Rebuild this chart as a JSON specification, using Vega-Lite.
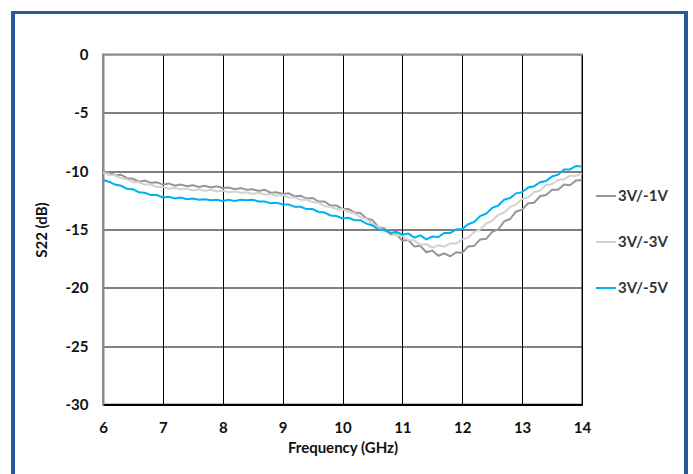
{
  "$schema": "https://vega.github.io/schema/vega-lite/v6.json",
  "width": 479,
  "height": 350,
  "autosize": {"type": "none"},
  "padding": {"left": 103, "top": 54.5, "right": 111, "bottom": 69.5},
  "background": "white",
  "config": {
    "font": "Lato",
    "view": {"stroke": "#8a8a8a", "strokeWidth": 2},
    "axis": {
      "labelFont": "Lato", "labelFontSize": 15, "labelFontWeight": "bold", "labelColor": "#111111",
      "titleFont": "Lato", "titleFontSize": 15, "titleFontWeight": "bold", "titleColor": "#111111",
      "ticks": false, "gridWidth": 1, "labelFlush": false
    },
    "legend": {
      "labelFont": "Lato", "labelFontSize": 15, "labelFontWeight": "bold", "labelColor": "#333333"
    }
  },
  "data": {"values": [
    {"f":6.0,"s":"3V/-1V","v":-10.0},{"f":6.1,"s":"3V/-1V","v":-10.1},{"f":6.2,"s":"3V/-1V","v":-10.35},{"f":6.3,"s":"3V/-1V","v":-10.3},{"f":6.4,"s":"3V/-1V","v":-10.6},{"f":6.5,"s":"3V/-1V","v":-10.65},{"f":6.6,"s":"3V/-1V","v":-10.9},{"f":6.7,"s":"3V/-1V","v":-10.8},{"f":6.8,"s":"3V/-1V","v":-11.0},{"f":6.9,"s":"3V/-1V","v":-10.95},
    {"f":7.0,"s":"3V/-1V","v":-11.15},{"f":7.1,"s":"3V/-1V","v":-11.05},{"f":7.2,"s":"3V/-1V","v":-11.25},{"f":7.3,"s":"3V/-1V","v":-11.15},{"f":7.4,"s":"3V/-1V","v":-11.3},{"f":7.5,"s":"3V/-1V","v":-11.2},{"f":7.6,"s":"3V/-1V","v":-11.35},{"f":7.7,"s":"3V/-1V","v":-11.25},{"f":7.8,"s":"3V/-1V","v":-11.4},{"f":7.9,"s":"3V/-1V","v":-11.3},
    {"f":8.0,"s":"3V/-1V","v":-11.45},{"f":8.1,"s":"3V/-1V","v":-11.4},{"f":8.2,"s":"3V/-1V","v":-11.55},{"f":8.3,"s":"3V/-1V","v":-11.45},{"f":8.4,"s":"3V/-1V","v":-11.6},{"f":8.5,"s":"3V/-1V","v":-11.55},{"f":8.6,"s":"3V/-1V","v":-11.7},{"f":8.7,"s":"3V/-1V","v":-11.6},{"f":8.8,"s":"3V/-1V","v":-11.85},{"f":8.9,"s":"3V/-1V","v":-11.8},
    {"f":9.0,"s":"3V/-1V","v":-11.95},{"f":9.1,"s":"3V/-1V","v":-11.9},{"f":9.2,"s":"3V/-1V","v":-12.15},{"f":9.3,"s":"3V/-1V","v":-12.1},{"f":9.4,"s":"3V/-1V","v":-12.35},{"f":9.5,"s":"3V/-1V","v":-12.3},{"f":9.6,"s":"3V/-1V","v":-12.6},{"f":9.7,"s":"3V/-1V","v":-12.6},{"f":9.8,"s":"3V/-1V","v":-12.95},{"f":9.9,"s":"3V/-1V","v":-12.95},
    {"f":10.0,"s":"3V/-1V","v":-13.25},{"f":10.1,"s":"3V/-1V","v":-13.25},{"f":10.2,"s":"3V/-1V","v":-13.55},{"f":10.3,"s":"3V/-1V","v":-13.6},{"f":10.4,"s":"3V/-1V","v":-14.05},{"f":10.5,"s":"3V/-1V","v":-14.2},{"f":10.6,"s":"3V/-1V","v":-14.8},{"f":10.7,"s":"3V/-1V","v":-14.9},{"f":10.8,"s":"3V/-1V","v":-15.4},{"f":10.9,"s":"3V/-1V","v":-15.4},
    {"f":11.0,"s":"3V/-1V","v":-15.95},{"f":11.1,"s":"3V/-1V","v":-15.9},{"f":11.2,"s":"3V/-1V","v":-16.45},{"f":11.3,"s":"3V/-1V","v":-16.4},{"f":11.4,"s":"3V/-1V","v":-16.95},{"f":11.5,"s":"3V/-1V","v":-16.8},{"f":11.6,"s":"3V/-1V","v":-17.25},{"f":11.7,"s":"3V/-1V","v":-17.05},{"f":11.8,"s":"3V/-1V","v":-17.3},{"f":11.9,"s":"3V/-1V","v":-16.95},
    {"f":12.0,"s":"3V/-1V","v":-17.0},{"f":12.1,"s":"3V/-1V","v":-16.45},{"f":12.2,"s":"3V/-1V","v":-16.4},{"f":12.3,"s":"3V/-1V","v":-15.85},{"f":12.4,"s":"3V/-1V","v":-15.8},{"f":12.5,"s":"3V/-1V","v":-15.2},{"f":12.6,"s":"3V/-1V","v":-15.0},{"f":12.7,"s":"3V/-1V","v":-14.3},{"f":12.8,"s":"3V/-1V","v":-14.1},{"f":12.9,"s":"3V/-1V","v":-13.45},
    {"f":13.0,"s":"3V/-1V","v":-13.3},{"f":13.1,"s":"3V/-1V","v":-12.75},{"f":13.2,"s":"3V/-1V","v":-12.7},{"f":13.3,"s":"3V/-1V","v":-12.15},{"f":13.4,"s":"3V/-1V","v":-12.05},{"f":13.5,"s":"3V/-1V","v":-11.6},{"f":13.6,"s":"3V/-1V","v":-11.6},{"f":13.7,"s":"3V/-1V","v":-11.15},{"f":13.8,"s":"3V/-1V","v":-11.2},{"f":13.9,"s":"3V/-1V","v":-10.8},{"f":14.0,"s":"3V/-1V","v":-10.75},

    {"f":6.0,"s":"3V/-3V","v":-10.1},{"f":6.1,"s":"3V/-3V","v":-10.3},{"f":6.2,"s":"3V/-3V","v":-10.35},{"f":6.3,"s":"3V/-3V","v":-10.6},{"f":6.4,"s":"3V/-3V","v":-10.7},{"f":6.5,"s":"3V/-3V","v":-10.95},{"f":6.6,"s":"3V/-3V","v":-10.95},{"f":6.7,"s":"3V/-3V","v":-11.15},{"f":6.8,"s":"3V/-3V","v":-11.15},{"f":6.9,"s":"3V/-3V","v":-11.35},
    {"f":7.0,"s":"3V/-3V","v":-11.35},{"f":7.1,"s":"3V/-3V","v":-11.5},{"f":7.2,"s":"3V/-3V","v":-11.45},{"f":7.3,"s":"3V/-3V","v":-11.55},{"f":7.4,"s":"3V/-3V","v":-11.5},{"f":7.5,"s":"3V/-3V","v":-11.65},{"f":7.6,"s":"3V/-3V","v":-11.55},{"f":7.7,"s":"3V/-3V","v":-11.7},{"f":7.8,"s":"3V/-3V","v":-11.6},{"f":7.9,"s":"3V/-3V","v":-11.75},
    {"f":8.0,"s":"3V/-3V","v":-11.65},{"f":8.1,"s":"3V/-3V","v":-11.8},{"f":8.2,"s":"3V/-3V","v":-11.75},{"f":8.3,"s":"3V/-3V","v":-11.85},{"f":8.4,"s":"3V/-3V","v":-11.8},{"f":8.5,"s":"3V/-3V","v":-11.95},{"f":8.6,"s":"3V/-3V","v":-11.85},{"f":8.7,"s":"3V/-3V","v":-12.0},{"f":8.8,"s":"3V/-3V","v":-11.95},{"f":8.9,"s":"3V/-3V","v":-12.1},
    {"f":9.0,"s":"3V/-3V","v":-12.05},{"f":9.1,"s":"3V/-3V","v":-12.25},{"f":9.2,"s":"3V/-3V","v":-12.25},{"f":9.3,"s":"3V/-3V","v":-12.45},{"f":9.4,"s":"3V/-3V","v":-12.45},{"f":9.5,"s":"3V/-3V","v":-12.65},{"f":9.6,"s":"3V/-3V","v":-12.7},{"f":9.7,"s":"3V/-3V","v":-13.0},{"f":9.8,"s":"3V/-3V","v":-13.05},{"f":9.9,"s":"3V/-3V","v":-13.25},
    {"f":10.0,"s":"3V/-3V","v":-13.25},{"f":10.1,"s":"3V/-3V","v":-13.5},{"f":10.2,"s":"3V/-3V","v":-13.6},{"f":10.3,"s":"3V/-3V","v":-13.95},{"f":10.4,"s":"3V/-3V","v":-14.1},{"f":10.5,"s":"3V/-3V","v":-14.55},{"f":10.6,"s":"3V/-3V","v":-14.8},{"f":10.7,"s":"3V/-3V","v":-15.15},{"f":10.8,"s":"3V/-3V","v":-15.25},{"f":10.9,"s":"3V/-3V","v":-15.5},
    {"f":11.0,"s":"3V/-3V","v":-15.55},{"f":11.1,"s":"3V/-3V","v":-15.9},{"f":11.2,"s":"3V/-3V","v":-15.95},{"f":11.3,"s":"3V/-3V","v":-16.3},{"f":11.4,"s":"3V/-3V","v":-16.25},{"f":11.5,"s":"3V/-3V","v":-16.55},{"f":11.6,"s":"3V/-3V","v":-16.35},{"f":11.7,"s":"3V/-3V","v":-16.45},{"f":11.8,"s":"3V/-3V","v":-16.2},{"f":11.9,"s":"3V/-3V","v":-16.2},
    {"f":12.0,"s":"3V/-3V","v":-15.85},{"f":12.1,"s":"3V/-3V","v":-15.7},{"f":12.2,"s":"3V/-3V","v":-15.2},{"f":12.3,"s":"3V/-3V","v":-15.0},{"f":12.4,"s":"3V/-3V","v":-14.5},{"f":12.5,"s":"3V/-3V","v":-14.25},{"f":12.6,"s":"3V/-3V","v":-13.75},{"f":12.7,"s":"3V/-3V","v":-13.55},{"f":12.8,"s":"3V/-3V","v":-13.05},{"f":12.9,"s":"3V/-3V","v":-12.85},
    {"f":13.0,"s":"3V/-3V","v":-12.4},{"f":13.1,"s":"3V/-3V","v":-12.25},{"f":13.2,"s":"3V/-3V","v":-11.8},{"f":13.3,"s":"3V/-3V","v":-11.65},{"f":13.4,"s":"3V/-3V","v":-11.2},{"f":13.5,"s":"3V/-3V","v":-11.1},{"f":13.6,"s":"3V/-3V","v":-10.75},{"f":13.7,"s":"3V/-3V","v":-10.7},{"f":13.8,"s":"3V/-3V","v":-10.4},{"f":13.9,"s":"3V/-3V","v":-10.4},{"f":14.0,"s":"3V/-3V","v":-10.2},

    {"f":6.0,"s":"3V/-5V","v":-10.75},{"f":6.1,"s":"3V/-5V","v":-10.9},{"f":6.2,"s":"3V/-5V","v":-11.15},{"f":6.3,"s":"3V/-5V","v":-11.25},{"f":6.4,"s":"3V/-5V","v":-11.5},{"f":6.5,"s":"3V/-5V","v":-11.55},{"f":6.6,"s":"3V/-5V","v":-11.8},{"f":6.7,"s":"3V/-5V","v":-11.85},{"f":6.8,"s":"3V/-5V","v":-12.05},{"f":6.9,"s":"3V/-5V","v":-12.05},
    {"f":7.0,"s":"3V/-5V","v":-12.25},{"f":7.1,"s":"3V/-5V","v":-12.2},{"f":7.2,"s":"3V/-5V","v":-12.35},{"f":7.3,"s":"3V/-5V","v":-12.25},{"f":7.4,"s":"3V/-5V","v":-12.4},{"f":7.5,"s":"3V/-5V","v":-12.35},{"f":7.6,"s":"3V/-5V","v":-12.45},{"f":7.7,"s":"3V/-5V","v":-12.4},{"f":7.8,"s":"3V/-5V","v":-12.5},{"f":7.9,"s":"3V/-5V","v":-12.45},
    {"f":8.0,"s":"3V/-5V","v":-12.55},{"f":8.1,"s":"3V/-5V","v":-12.45},{"f":8.2,"s":"3V/-5V","v":-12.55},{"f":8.3,"s":"3V/-5V","v":-12.45},{"f":8.4,"s":"3V/-5V","v":-12.5},{"f":8.5,"s":"3V/-5V","v":-12.45},{"f":8.6,"s":"3V/-5V","v":-12.6},{"f":8.7,"s":"3V/-5V","v":-12.6},{"f":8.8,"s":"3V/-5V","v":-12.75},{"f":8.9,"s":"3V/-5V","v":-12.7},
    {"f":9.0,"s":"3V/-5V","v":-12.85},{"f":9.1,"s":"3V/-5V","v":-12.85},{"f":9.2,"s":"3V/-5V","v":-13.05},{"f":9.3,"s":"3V/-5V","v":-13.05},{"f":9.4,"s":"3V/-5V","v":-13.25},{"f":9.5,"s":"3V/-5V","v":-13.25},{"f":9.6,"s":"3V/-5V","v":-13.5},{"f":9.7,"s":"3V/-5V","v":-13.55},{"f":9.8,"s":"3V/-5V","v":-13.8},{"f":9.9,"s":"3V/-5V","v":-13.85},
    {"f":10.0,"s":"3V/-5V","v":-14.05},{"f":10.1,"s":"3V/-5V","v":-14.0},{"f":10.2,"s":"3V/-5V","v":-14.2},{"f":10.3,"s":"3V/-5V","v":-14.2},{"f":10.4,"s":"3V/-5V","v":-14.5},{"f":10.5,"s":"3V/-5V","v":-14.65},{"f":10.6,"s":"3V/-5V","v":-15.0},{"f":10.7,"s":"3V/-5V","v":-15.05},{"f":10.8,"s":"3V/-5V","v":-15.3},{"f":10.9,"s":"3V/-5V","v":-15.2},
    {"f":11.0,"s":"3V/-5V","v":-15.45},{"f":11.1,"s":"3V/-5V","v":-15.35},{"f":11.2,"s":"3V/-5V","v":-15.7},{"f":11.3,"s":"3V/-5V","v":-15.5},{"f":11.4,"s":"3V/-5V","v":-15.85},{"f":11.5,"s":"3V/-5V","v":-15.6},{"f":11.6,"s":"3V/-5V","v":-15.65},{"f":11.7,"s":"3V/-5V","v":-15.3},{"f":11.8,"s":"3V/-5V","v":-15.3},{"f":11.9,"s":"3V/-5V","v":-15.0},
    {"f":12.0,"s":"3V/-5V","v":-14.95},{"f":12.1,"s":"3V/-5V","v":-14.55},{"f":12.2,"s":"3V/-5V","v":-14.35},{"f":12.3,"s":"3V/-5V","v":-13.85},{"f":12.4,"s":"3V/-5V","v":-13.65},{"f":12.5,"s":"3V/-5V","v":-13.15},{"f":12.6,"s":"3V/-5V","v":-12.95},{"f":12.7,"s":"3V/-5V","v":-12.45},{"f":12.8,"s":"3V/-5V","v":-12.3},{"f":12.9,"s":"3V/-5V","v":-11.9},
    {"f":13.0,"s":"3V/-5V","v":-11.8},{"f":13.1,"s":"3V/-5V","v":-11.4},{"f":13.2,"s":"3V/-5V","v":-11.3},{"f":13.3,"s":"3V/-5V","v":-10.95},{"f":13.4,"s":"3V/-5V","v":-10.85},{"f":13.5,"s":"3V/-5V","v":-10.45},{"f":13.6,"s":"3V/-5V","v":-10.3},{"f":13.7,"s":"3V/-5V","v":-9.85},{"f":13.8,"s":"3V/-5V","v":-9.85},{"f":13.9,"s":"3V/-5V","v":-9.55},{"f":14.0,"s":"3V/-5V","v":-9.6}
  ]},
  "layer": [
    {
      "mark": {"type": "rect", "fill": "transparent", "stroke": "#285a96", "strokeWidth": 3, "clip": false},
      "encoding": {
        "x": {"datum": 4.489, "type": "quantitative"},
        "x2": {"datum": 15.737},
        "y": {"datum": 3.6, "type": "quantitative"},
        "y2": {"datum": -36.5}
      }
    },
    {
      "mark": {"type": "line", "strokeWidth": 2, "interpolate": "linear"},
      "encoding": {
        "x": {
          "field": "f", "type": "quantitative",
          "scale": {"domain": [6, 14], "nice": false, "zero": false},
          "axis": {
            "title": "Frequency (GHz)", "values": [6,7,8,9,10,11,12,13,14],
            "labelExpr": "'' + datum.value",
            "grid": true, "gridColor": "#000000",
            "domainColor": "#000000", "domainWidth": 2,
            "labelPadding": 16, "titlePadding": 5
          }
        },
        "y": {
          "field": "v", "type": "quantitative",
          "scale": {"domain": [-30, 0], "nice": false, "zero": false},
          "axis": {
            "title": "S22 (dB)", "values": [-30,-25,-20,-15,-10,-5,0],
            "labelExpr": "'' + datum.value",
            "grid": true,
            "gridColor": {"condition": {"test": "datum.value === 0", "value": "#8a8a8a"}, "value": "#000000"},
            "domainColor": "#8a8a8a", "domainWidth": 2,
            "labelPadding": 15, "titlePadding": 16
          }
        },
        "color": {
          "field": "s", "type": "nominal",
          "scale": {"domain": ["3V/-1V", "3V/-3V", "3V/-5V"], "range": ["#969696", "#d2d2d2", "#00b0f0"]},
          "legend": {
            "title": null, "orient": "none", "legendX": 492, "legendY": 130.5,
            "symbolType": "stroke", "symbolSize": 400, "symbolStrokeWidth": 2,
            "rowPadding": 27, "labelOffset": 1
          }
        }
      }
    }
  ]
}
